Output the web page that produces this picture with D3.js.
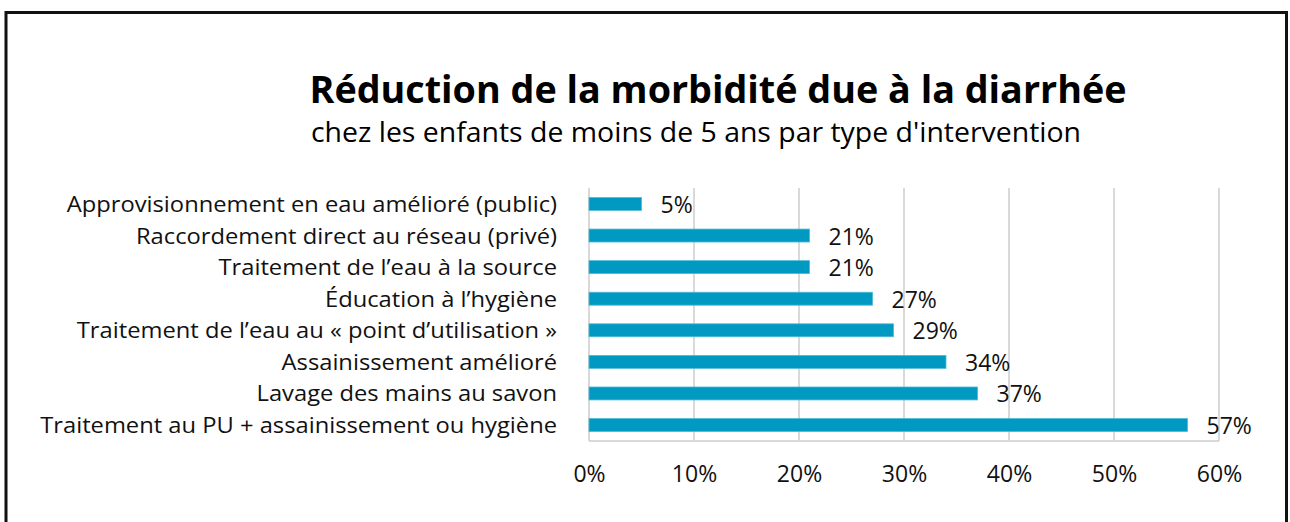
<!DOCTYPE html>
<html><head><meta charset="utf-8">
<script src="https://cdn.jsdelivr.net/npm/d3@7"></script>
<style>body{margin:0;background:#fff}svg{display:block}</style>
</head><body>
<script>
const categories = [
  "Approvisionnement en eau amélioré (public)",
  "Raccordement direct au réseau (privé)",
  "Traitement de l’eau à la source",
  "Éducation à l’hygiène",
  "Traitement de l’eau au « point d’utilisation »",
  "Assainissement amélioré",
  "Lavage des mains au savon",
  "Traitement au PU + assainissement ou hygiène"
];
const values = [0.05, 0.21, 0.21, 0.27, 0.29, 0.34, 0.37, 0.57];
const tickValues = [0, 0.1, 0.2, 0.3, 0.4, 0.5, 0.6];
const title = "Réduction de la morbidité due à la diarrhée";
const subtitle = "chez les enfants de moins de 5 ans par type d'intervention";

const W = 1290, H = 522;
const font = "'Open Sans', 'Noto Sans', sans-serif";
const svg = d3.select("body").append("svg").attr("width", W).attr("height", H);
svg.append("rect").attr("width", W).attr("height", H).attr("fill", "#fff");

// frame
svg.append("path").attr("d", "M6,530 V12.5 H1286.5 V530").attr("fill", "none")
  .attr("stroke", "#111").attr("stroke-width", 3);

svg.append("text").attr("x", 718).attr("y", 103).attr("text-anchor", "middle")
  .attr("font-family", font).attr("font-weight", 700).attr("font-size", 37)
  .attr("textLength", 817).attr("lengthAdjust", "spacingAndGlyphs").text(title);
svg.append("text").attr("x", 696).attr("y", 142).attr("text-anchor", "middle")
  .attr("font-family", font).attr("font-size", 27)
  .attr("textLength", 770).attr("lengthAdjust", "spacingAndGlyphs").text(subtitle);

const x = d3.scaleLinear().domain([0, 0.6]).range([589, 1219]);
const y = d3.scaleBand().domain(categories).range([188, 441]).paddingInner(0.59).paddingOuter(0.3);

// gridlines
svg.append("g").selectAll("line").data(tickValues).join("line")
  .attr("x1", d => x(d)).attr("x2", d => x(d)).attr("y1", 188).attr("y2", 441)
  .attr("stroke", "#d9d9d9").attr("stroke-width", 2);
svg.append("line").attr("x1", x(0)).attr("x2", x(0.6)).attr("y1", 441).attr("y2", 441)
  .attr("stroke", "#d9d9d9").attr("stroke-width", 2);

// bars
svg.append("g").selectAll("rect").data(values).join("rect")
  .attr("x", x(0)).attr("y", (d, i) => y(categories[i]))
  .attr("width", d => x(d) - x(0)).attr("height", y.bandwidth())
  .attr("fill", "#0099c1").attr("stroke", "#4fb9d6").attr("stroke-width", 0.8);

// value labels
svg.append("g").selectAll("text").data(values).join("text")
  .attr("x", d => x(d) + 19).attr("y", (d, i) => y(categories[i]) + y.bandwidth() / 2 + 9)
  .attr("font-family", font).attr("font-size", 23).attr("fill", "#111")
  .text(d => d3.format(".0%")(d));

// category labels
svg.append("g").selectAll("text").data(categories).join("text")
  .attr("x", 557).attr("y", d => y(d) + y.bandwidth() / 2 + 8).attr("text-anchor", "end")
  .attr("font-family", font).attr("font-size", 22.5).attr("fill", "#111")
  .attr("transform", "translate(557,0) scale(1.055,1) translate(-557,0)")
  .text(d => d);

// x axis
const ax = svg.append("g").attr("transform", "translate(0,441)")
  .call(d3.axisBottom(x).tickValues(tickValues).tickFormat(d3.format(".0%")).tickSize(0).tickPadding(25));
ax.select(".domain").remove();
ax.selectAll("text").attr("font-family", font).attr("font-size", 23).attr("fill", "#111");
</script>
</body></html>
